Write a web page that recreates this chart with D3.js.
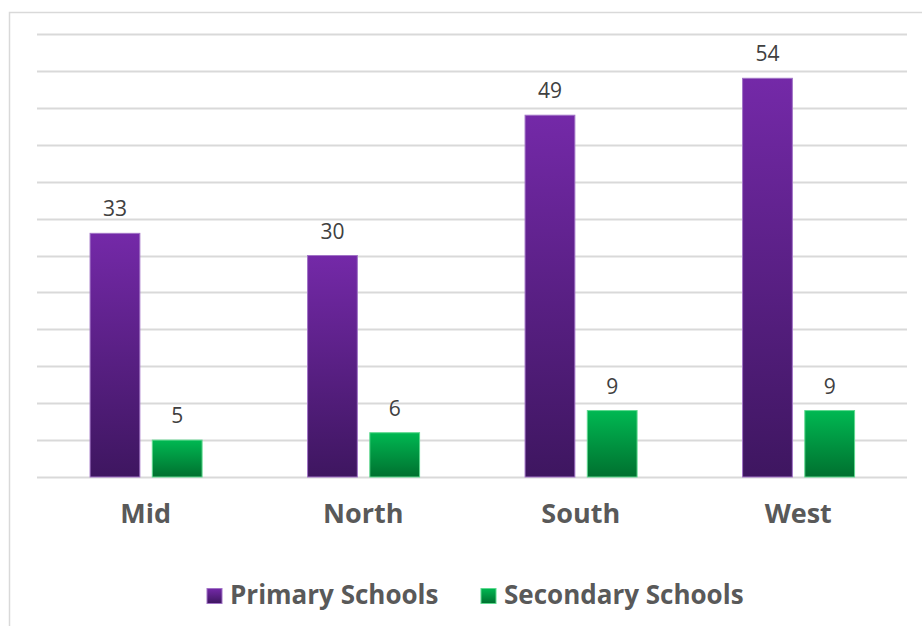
<!DOCTYPE html>
<html>
<head>
<meta charset="utf-8">
<script src="https://cdn.jsdelivr.net/npm/d3@7"></script>
<style>
  body { margin: 0; background: #fff; }
  svg { display: block; }
</style>
</head>
<body>
<div id="chart"></div>
<script>
const regions = ['Mid', 'North', 'South', 'West'];
const seriesNames = ['Primary Schools', 'Secondary Schools'];
const primary = [33, 30, 49, 54];
const secondary = [5, 6, 9, 9];
const yTicks = d3.range(0, 61, 5);

const W = 922, H = 626;
const plot = { left: 37, right: 907, top: 34, bottom: 477 };

const svg = d3.select('#chart').append('svg')
  .attr('width', W)
  .attr('height', H);

// gradients for the bars
const defs = svg.append('defs');
const grads = [
  { id: 'gPrimary', top: '#7429a8', bottom: '#3e1660' },
  { id: 'gSecondary', top: '#00b852', bottom: '#00702f' },
];
grads.forEach((g) => {
  const lg = defs.append('linearGradient')
    .attr('id', g.id)
    .attr('x1', 0).attr('y1', 0).attr('x2', 0).attr('y2', 1);
  lg.append('stop').attr('offset', '0%').attr('stop-color', g.top);
  lg.append('stop').attr('offset', '100%').attr('stop-color', g.bottom);
});

// chart border
svg.append('rect')
  .attr('x', 9.5).attr('y', 12.5)
  .attr('width', W)
  .attr('height', H)
  .attr('fill', 'none')
  .attr('stroke', '#d9d9d9')
  .attr('stroke-width', 1.5);

const x = d3.scaleBand()
  .domain(regions)
  .range([plot.left, plot.right]);

const xs = d3.scaleBand()
  .domain(seriesNames)
  .range([x.bandwidth() * 0.244, x.bandwidth() * 0.759])
  .paddingInner(0.2);

const y = d3.scaleLinear()
  .domain([0, 60])
  .range([plot.bottom, plot.top]);

// gridlines
svg.append('g')
  .selectAll('line')
  .data(yTicks)
  .enter()
  .append('line')
  .attr('x1', plot.left)
  .attr('x2', plot.right)
  .attr('y1', (d) => Math.round(y(d)) + 0.5)
  .attr('y2', (d) => Math.round(y(d)) + 0.5)
  .attr('stroke', '#d9d9d9')
  .attr('stroke-width', 2);

const series = [
  { name: seriesNames[0], values: primary, fill: 'url(#gPrimary)', stroke: '#a173c6' },
  { name: seriesNames[1], values: secondary, fill: 'url(#gSecondary)', stroke: '#5fd98f' },
];

series.forEach((s) => {
  const g = svg.append('g');
  g.selectAll('rect')
    .data(regions)
    .enter()
    .append('rect')
    .attr('x', (d) => x(d) + xs(s.name))
    .attr('y', (d, i) => y(s.values[i]))
    .attr('width', xs.bandwidth())
    .attr('height', (d, i) => y(0) - y(s.values[i]))
    .attr('fill', s.fill)
    .attr('stroke', s.stroke)
    .attr('stroke-width', 1);

  g.selectAll('text')
    .data(regions)
    .enter()
    .append('text')
    .attr('x', (d) => x(d) + xs(s.name) + xs.bandwidth() / 2)
    .attr('y', (d, i) => y(s.values[i]) - 17)
    .attr('text-anchor', 'middle')
    .attr('fill', '#404040')
    .style('font-family', "'Open Sans', 'Noto Sans', sans-serif")
    .style('font-size', '21px')
    .text((d, i) => s.values[i]);
});

// category labels
svg.append('g')
  .selectAll('text')
  .data(regions)
  .enter()
  .append('text')
  .attr('x', (d) => x(d) + x.bandwidth() / 2)
  .attr('y', 523)
  .attr('text-anchor', 'middle')
  .attr('fill', '#595959')
  .style('font-family', "'Open Sans', 'Noto Sans', sans-serif")
  .style('font-weight', 'bold')
  .style('font-size', '27px')
  .text((d) => d);

// legend
const legendX = [207, 481];
const legend = svg.append('g');
series.forEach((s, i) => {
  legend.append('rect')
    .attr('x', legendX[i])
    .attr('y', 588.5)
    .attr('width', 15)
    .attr('height', 15)
    .attr('fill', s.fill)
    .attr('stroke', s.stroke)
    .attr('stroke-width', 1);
  legend.append('text')
    .attr('x', legendX[i] + 23)
    .attr('y', 604)
    .attr('fill', '#595959')
    .style('font-family', "'Open Sans', 'Noto Sans', sans-serif")
    .style('font-weight', 'bold')
    .style('font-size', '26px')
    .text(s.name);
});
</script>
</body>
</html>
